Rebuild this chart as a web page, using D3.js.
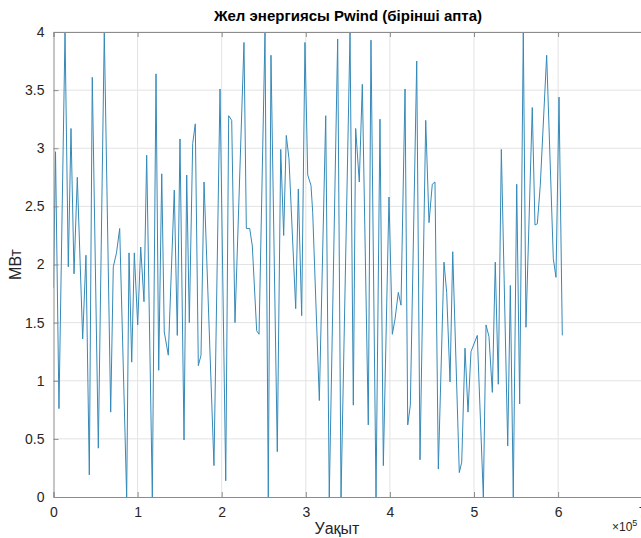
<!DOCTYPE html>
<html>
<head>
<meta charset="utf-8">
<style>
  body { margin: 0; background: #fff; }
  svg text { font-family: "Liberation Sans", Arial, sans-serif; }
</style>
</head>
<body>
<div id="chart"></div>
<script src="https://cdn.jsdelivr.net/npm/d3@7"></script>
<script>
// time in units of 1e5 s, power in MW
var timeVals = [0, 0.024, 0.065, 0.137, 0.176, 0.208, 0.244, 0.283, 0.347, 0.386,
  0.426, 0.461, 0.533, 0.604, 0.680, 0.711, 0.749, 0.787, 0.870, 0.898,
  0.930, 0.961, 1.001, 1.037, 1.076, 1.108, 1.175, 1.219, 1.251, 1.287,
  1.317, 1.365, 1.436, 1.472, 1.504, 1.552, 1.584, 1.615, 1.655, 1.686,
  1.722, 1.754, 1.790, 1.908, 1.980, 2.048, 2.083, 2.119, 2.158, 2.265,
  2.293, 2.333, 2.364, 2.416, 2.444, 2.515, 2.554, 2.586, 2.661, 2.702,
  2.737, 2.768, 2.800, 2.880, 2.911, 2.951, 2.990, 3.023, 3.062, 3.082,
  3.161, 3.237, 3.279, 3.379, 3.419, 3.526, 3.565, 3.593, 3.636, 3.672,
  3.743, 3.775, 3.835, 3.882, 3.922, 3.989, 4.029, 4.061, 4.100, 4.132,
  4.180, 4.212, 4.243, 4.319, 4.358, 4.426, 4.465, 4.504, 4.536, 4.576,
  4.643, 4.675, 4.715, 4.747, 4.825, 4.854, 4.893, 4.929, 4.964, 5.039,
  5.111, 5.143, 5.178, 5.218, 5.253, 5.289, 5.325, 5.401, 5.432, 5.467,
  5.508, 5.543, 5.586, 5.618, 5.693, 5.725, 5.753, 5.788, 5.864, 5.943,
  5.975, 6.011, 6.050];
var powerVals = [1.8, 2.97, 0.76, 4.0, 1.98, 3.17, 1.92, 2.75, 1.36, 2.08,
  0.19, 3.61, 0.42, 4.0, 0.73, 1.98, 2.1, 2.31, 0, 2.1,
  1.16, 2.1, 1.48, 2.15, 1.68, 2.94, 0, 3.64, 1.09, 2.78,
  1.42, 1.22, 2.64, 1.39, 3.08, 0.49, 2.77, 1.5, 3.04, 3.21,
  1.13, 1.22, 2.71, 0.27, 3.51, 0.14, 3.28, 3.24, 1.5, 3.91,
  2.31, 2.31, 2.16, 1.43, 1.4, 4.0, 0, 3.8, 0.39, 2.99,
  2.25, 3.11, 2.91, 1.62, 2.65, 1.56, 3.91, 2.77, 2.68, 2.45,
  0.83, 3.28, 0, 3.94, 0, 4.0, 0.79, 3.17, 2.71, 3.55,
  0.62, 3.93, 0, 3.25, 0.27, 2.58, 1.4, 1.53, 1.76, 1.65,
  3.51, 0.62, 0.79, 3.75, 0.32, 3.24, 2.36, 2.69, 2.71, 0.24,
  2.02, 1.76, 0.99, 2.11, 0.21, 0.3, 1.28, 0.73, 1.25, 1.39,
  0, 1.48, 1.38, 0.9, 2.02, 0.97, 2.99, 0.44, 1.82, 0,
  2.69, 0.8, 4.0, 1.46, 3.35, 2.34, 2.35, 2.68, 3.8, 2.05,
  1.89, 3.44, 1.39];
var xTicks = [0, 1, 2, 3, 4, 5, 6, 7];
var yTicks = [0, 0.5, 1, 1.5, 2, 2.5, 3, 3.5, 4];

var W = 641, H = 538;
var margin = {top: 32, left: 53.5};
var plotW = 7 * 84.1, plotH = 465;

var svg = d3.select("#chart").append("svg")
  .attr("width", W).attr("height", H);

var x = d3.scaleLinear().domain([0, 7]).range([margin.left, margin.left + plotW]);
var y = d3.scaleLinear().domain([0, 4]).range([margin.top + plotH, margin.top]);

// grid
svg.append("g").selectAll("line").data(xTicks.slice(1)).enter().append("line")
  .attr("x1", d => x(d)).attr("x2", d => x(d))
  .attr("y1", y(0)).attr("y2", y(4))
  .attr("stroke", "#e3e3e3").attr("stroke-width", 1);
svg.append("g").selectAll("line").data(yTicks.slice(1)).enter().append("line")
  .attr("x1", x(0)).attr("x2", x(7))
  .attr("y1", d => y(d)).attr("y2", d => y(d))
  .attr("stroke", "#e3e3e3").attr("stroke-width", 1);

// data line
svg.append("clipPath").attr("id", "clip").append("rect")
  .attr("x", x(0)).attr("y", y(4) - 1).attr("width", plotW).attr("height", plotH + 2);
var pts = timeVals.map((t, i) => [t, powerVals[i]]);
svg.append("path").datum(pts)
  .attr("clip-path", "url(#clip)")
  .attr("fill", "none").attr("stroke", "#3589b8").attr("stroke-width", 1)
  .attr("d", d3.line().x(d => x(d[0])).y(d => y(d[1])));

// axes (MATLAB style: ticks inside, box)
var axBottom = svg.append("g").attr("transform", "translate(0," + y(0) + ")")
  .call(d3.axisBottom(x).tickValues(xTicks).tickSize(-5).tickPadding(10).tickFormat(d3.format("d")));
var axLeft = svg.append("g").attr("transform", "translate(" + x(0) + ",0)")
  .call(d3.axisLeft(y).tickValues(yTicks).tickSize(-5).tickPadding(9).tickFormat(d => d));
var axTop = svg.append("g").attr("transform", "translate(0," + y(4) + ")")
  .call(d3.axisTop(x).tickValues(xTicks).tickSize(-5).tickFormat(""));
[axBottom, axLeft, axTop].forEach(function(g) {
  g.select(".domain").attr("stroke", "#8c8c8c");
  g.selectAll(".tick line").attr("stroke", "#8c8c8c");
  g.selectAll(".tick text").attr("fill", "#262626").style("font-size", "14px");
});

// labels
svg.append("text").attr("x", 348).attr("y", 21).attr("text-anchor", "middle")
  .style("font-size", "15px").style("font-weight", "bold").attr("fill", "#000")
  .text("Жел энергиясы Pwind (бірінші апта)");
svg.append("text").attr("x", 337).attr("y", 534).attr("text-anchor", "middle")
  .style("font-size", "16px").attr("fill", "#262626").text("Уақыт");
svg.append("text").attr("transform", "translate(21," + y(2) + ") rotate(-90)")
  .attr("text-anchor", "middle").style("font-size", "16px").attr("fill", "#262626").text("МВт");
var ex = svg.append("text").attr("x", 612).attr("y", 531)
  .style("font-size", "12px").attr("fill", "#262626");
ex.append("tspan").text("×10");
ex.append("tspan").attr("dy", -5).style("font-size", "9px").text("5");
</script>
</body>
</html>
